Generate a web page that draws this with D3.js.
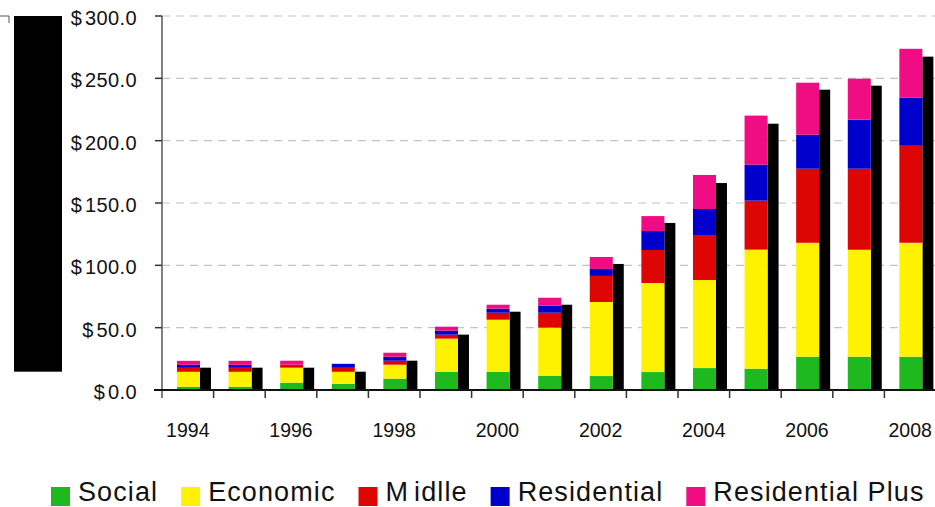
<!DOCTYPE html>
<html>
<head>
<meta charset="utf-8">
<script src="https://cdn.jsdelivr.net/npm/d3@7"></script>
<style>
    body { margin: 0; background: #fff; }
    svg { display: block; font-family: "Liberation Sans", Arial, sans-serif; }
</style>
</head>
<body>
<div id="chart"></div>
<script>
var years = ['1994', '1995', '1996', '1997', '1998', '1999', '2000', '2001',
    '2002', '2003', '2004', '2005', '2006', '2007', '2008'];
var yearLabels = ['1994', '1996', '1998', '2000', '2002', '2004', '2006', '2008'];

var social      = [2.6, 2.6, 5.9, 5.0, 9.1, 14.7, 14.7, 11.5, 11.2, 14.4, 17.6, 17.1, 26.7, 26.7, 26.7];
var economic    = [12.0, 12.0, 12.0, 9.6, 11.2, 26.5, 41.7, 38.5, 59.4, 71.4, 70.6, 95.5, 91.4, 85.8, 91.4];
var midlle      = [3.2, 3.2, 2.4, 3.2, 3.2, 3.2, 5.6, 12.0, 20.9, 26.5, 36.1, 39.3, 59.4, 65.0, 77.8];
var residential = [2.4, 2.4, 0, 3.2, 3.2, 3.2, 3.2, 5.6, 5.6, 15.2, 20.9, 28.9, 27.3, 39.3, 38.5];
var resPlus     = [3.2, 3.2, 3.2, 0, 3.2, 3.2, 3.2, 6.4, 9.6, 12.0, 27.3, 39.3, 41.7, 32.9, 39.3];
// second (black) bar of each year
var blackBar    = [17.9, 17.9, 17.9, 14.7, 23.5, 44.4, 62.8, 68.4, 101.1, 134.0, 166.0, 213.6, 240.9, 244.1, 267.4];

var seriesNames = ['Social', 'Economic', 'Midlle', 'Residential', 'Residential Plus'];
var seriesColors = ['#1eb91e', '#fff200', '#de0505', '#0000cd', '#f00c82'];
var yTicks = [0, 50, 100, 150, 200, 250, 300];

var width = 935, height = 507;
var margin = { left: 162, right: -1, top: 16, bottom: 117 };

var rows = years.map(function (y, i) {
    return {
        year: y,
        'Social': social[i],
        'Economic': economic[i],
        'Midlle': midlle[i],
        'Residential': residential[i],
        'Residential Plus': resPlus[i],
        black: blackBar[i]
    };
});

var svg = d3.select('#chart')
    .append('svg')
    .attr('width', width)
    .attr('height', height);

var x = d3.scaleBand()
    .domain(years)
    .range([margin.left, width - margin.right])
    .padding(0);

var y = d3.scaleLinear()
    .domain([0, 300])
    .range([height - margin.bottom, margin.top]);

var color = d3.scaleOrdinal().domain(seriesNames).range(seriesColors);

// black box on the left (axis title area)
svg.append('rect')
    .attr('x', 14).attr('y', y(300))
    .attr('width', 48).attr('height', y(14.7) - y(300))
    .attr('fill', '#000');
svg.append('path')
    .attr('d', 'M0,' + y(300) + 'H9V' + (y(300) + 7))
    .attr('fill', 'none')
    .attr('stroke', '#555');

// gridlines
svg.append('g')
    .selectAll('line')
    .data(yTicks.slice(1))
    .enter().append('line')
    .attr('x1', margin.left).attr('x2', width)
    .attr('y1', function (d) { return y(d); })
    .attr('y2', function (d) { return y(d); })
    .attr('stroke', '#c4c4c4')
    .attr('stroke-width', 1.2)
    .attr('stroke-dasharray', '8,6');

var stack = d3.stack().keys(seriesNames);
var layers = stack(rows);

var bw = x.bandwidth();
var stackOff = bw * 0.29, stackW = bw * 0.446, blackW = bw * 0.213;

svg.append('g')
    .selectAll('rect')
    .data(rows)
    .enter().append('rect')
    .attr('x', function (d) { return x(d.year) + stackOff + stackW; })
    .attr('width', blackW)
    .attr('y', function (d) { return y(d.black); })
    .attr('height', function (d) { return y(0) - y(d.black); })
    .attr('fill', '#000');

svg.append('g')
    .selectAll('g')
    .data(layers)
    .enter().append('g')
    .attr('fill', function (d) { return color(d.key); })
    .selectAll('rect')
    .data(function (d) { return d; })
    .enter().append('rect')
    .attr('x', function (d) { return x(d.data.year) + stackOff; })
    .attr('width', stackW)
    .attr('y', function (d) { return y(d[1]); })
    .attr('height', function (d) { return y(d[0]) - y(d[1]); });

// y axis
var yAxis = svg.append('g');
yAxis.append('line')
    .attr('x1', margin.left).attr('x2', margin.left)
    .attr('y1', y(300)).attr('y2', y(0) + 8)
    .attr('stroke', '#808080').attr('stroke-width', 2);
yAxis.selectAll('.tick')
    .data(yTicks)
    .enter().append('line')
    .attr('x1', margin.left - 7).attr('x2', margin.left)
    .attr('y1', function (d) { return y(d); })
    .attr('y2', function (d) { return y(d); })
    .attr('stroke', '#333').attr('stroke-width', 1.5);
var yLab = yAxis.selectAll('text')
    .data(yTicks)
    .enter().append('text')
    .attr('x', 137)
    .attr('y', function (d) { return y(d) + 9; })
    .attr('text-anchor', 'end')
    .attr('font-size', '20px')
    .attr('fill', '#111');
yLab.append('tspan').text('$');
yLab.append('tspan')
    .attr('dx', 3)
    .attr('letter-spacing', '0.4px')
    .text(function (d) { return d3.format('.1f')(d); });

// x axis
var xAxis = svg.append('g');
xAxis.append('line')
    .attr('x1', margin.left - 8).attr('x2', width)
    .attr('y1', y(0)).attr('y2', y(0))
    .attr('stroke', '#111').attr('stroke-width', 2);
xAxis.selectAll('.tick')
    .data(years.slice(1))
    .enter().append('line')
    .attr('x1', function (d) { return x(d); })
    .attr('x2', function (d) { return x(d); })
    .attr('y1', y(0)).attr('y2', y(0) + 8)
    .attr('stroke', '#333').attr('stroke-width', 1.5);
xAxis.selectAll('text')
    .data(yearLabels)
    .enter().append('text')
    .attr('x', function (d) { return x(d) + bw / 2; })
    .attr('y', y(0) + 47)
    .attr('text-anchor', 'middle')
    .attr('font-size', '19.5px')
    .attr('fill', '#111')
    .text(function (d) { return d; });

// legend
var legend = svg.append('g');
var lx = 51;
seriesNames.forEach(function (name) {
    legend.append('rect')
        .attr('x', lx).attr('y', 487)
        .attr('width', 19).attr('height', 19)
        .attr('fill', color(name));
    var t = legend.append('text')
        .attr('x', lx + 27).attr('y', 501)
        .attr('font-size', '27px')
        .attr('letter-spacing', '1.1px')
        .attr('fill', '#111');
    if (name === 'Midlle') {
        // the original spaces the M a little away from the rest
        t.append('tspan').text(name.slice(0, 1));
        t.append('tspan').attr('dx', 5).text(name.slice(1));
    } else {
        t.text(name);
    }
    lx += 27 + t.node().getBBox().width + 23;
});
</script>
</body>
</html>
